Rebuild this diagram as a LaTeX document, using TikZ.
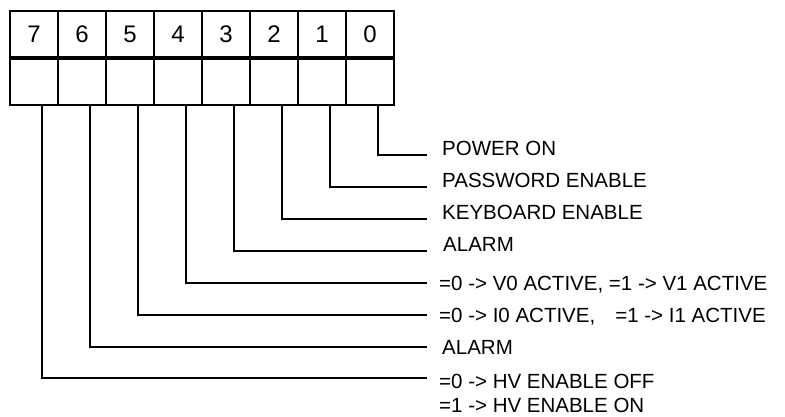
\documentclass[tikz,border=0pt]{standalone}
\usepackage{fontspec}
\setmainfont{Liberation Sans}
\usepackage{tikz}
\usetikzlibrary{positioning}

\begin{document}
\begin{tikzpicture}[
    x=1pt,y=-1pt,
    node distance=0pt,
    cell/.style={draw,line width=1.4pt,minimum width=48pt,minimum height=46pt,inner sep=0pt,outer sep=0pt,font=\fontsize{24}{24}\selectfont},
    lbl/.style={inner sep=0pt,anchor=base west,font=\fontsize{20.5}{24}\selectfont},
    lead/.style={line width=1.4pt}
]
\useasboundingbox (0,0) rectangle (785,416);

\node[cell] (b7) at (34,34) {7};
\node[cell,right=of b7] (b6) {6};
\node[cell,right=of b6] (b5) {5};
\node[cell,right=of b5] (b4) {4};
\node[cell,right=of b4] (b3) {3};
\node[cell,right=of b3] (b2) {2};
\node[cell,right=of b2] (b1) {1};
\node[cell,right=of b1] (b0) {0};

\node[cell,below=2pt of b7] (c7) {};
\node[cell,below=2pt of b6] (c6) {};
\node[cell,below=2pt of b5] (c5) {};
\node[cell,below=2pt of b4] (c4) {};
\node[cell,below=2pt of b3] (c3) {};
\node[cell,below=2pt of b2] (c2) {};
\node[cell,below=2pt of b1] (c1) {};
\node[cell,below=2pt of b0] (c0) {};

\coordinate (e0) at (427,155);
\coordinate (e1) at (427,187);
\coordinate (e2) at (427,219);
\coordinate (e3) at (427,251);
\coordinate (e4) at (427,283);
\coordinate (e5) at (427,315);
\coordinate (e6) at (427,347);
\coordinate (e7) at (427,378);

\node[lbl] (l0) at (442,155) {POWER ON};
\node[lbl] (l1) at (442,187) {PASSWORD ENABLE};
\node[lbl] (l2) at (442,219) {KEYBOARD ENABLE};
\node[lbl] (l3) at (443,251) {ALARM};
\node[lbl] (l4) at (439,290) {=0 -> V0 ACTIVE, =1 -> V1 ACTIVE};
\node[lbl] (l5) at (439,322) {=0 -> I0 ACTIVE,\hspace{20pt}=1 -> I1 ACTIVE};
\node[lbl] (l6) at (442,354) {ALARM};
\node[lbl,anchor=north west,align=left] (l7) at (439,374) {=0 -> HV ENABLE OFF\\=1 -> HV ENABLE ON};

\draw[lead] ([xshift=8pt]c0.south) |- (e0);
\draw[lead] ([xshift=8pt]c1.south) |- (e1);
\draw[lead] ([xshift=8pt]c2.south) |- (e2);
\draw[lead] ([xshift=8pt]c3.south) |- (e3);
\draw[lead] ([xshift=8pt]c4.south) |- (e4);
\draw[lead] ([xshift=8pt]c5.south) |- (e5);
\draw[lead] ([xshift=8pt]c6.south) |- (e6);
\draw[lead] ([xshift=8pt]c7.south) |- (e7);
\end{tikzpicture}
\end{document}
